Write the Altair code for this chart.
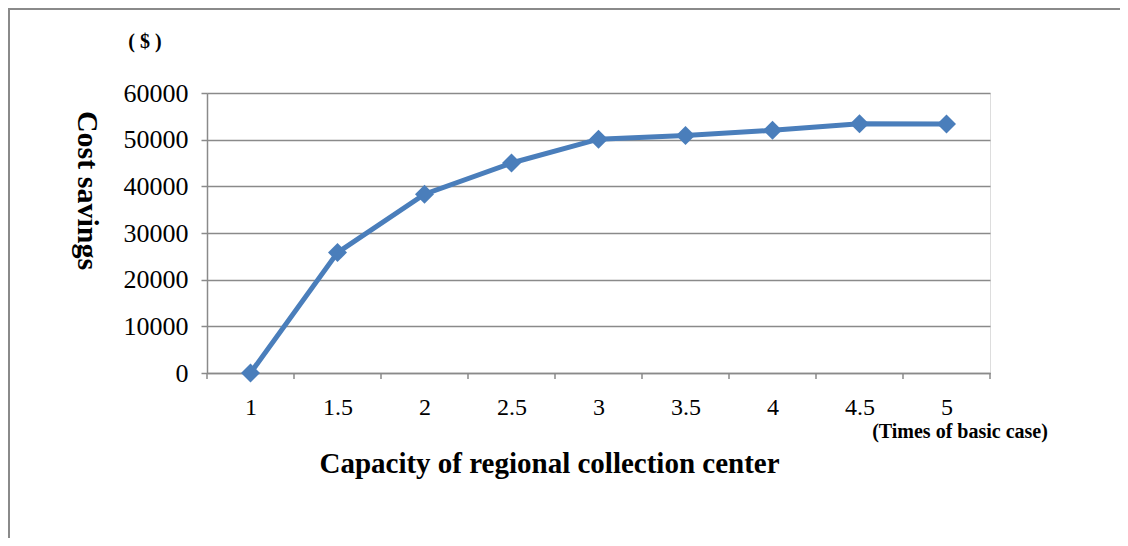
import altair as alt
import pandas as pd

capacity = [1, 1.5, 2, 2.5, 3, 3.5, 4, 4.5, 5]
savings = [0, 25800, 38300, 45000, 50100, 50900, 52000, 53400, 53350]
tick_bounds = [0.75, 1.25, 1.75, 2.25, 2.75, 3.25, 3.75, 4.25, 4.75, 5.25]
y_ticks = [0, 10000, 20000, 30000, 40000, 50000, 60000]

df = pd.DataFrame({"capacity": capacity, "savings": savings})
tb = pd.DataFrame({"b": tick_bounds})

W, H = 783, 280
GRAY = "#8a8a8a"
BLUE = "#4a7ebb"
FONT = "Liberation Serif"

xscale = alt.Scale(domain=[0.75, 5.25], nice=False, zero=False)
yscale = alt.Scale(domain=[0, 60000], nice=False)

x_enc = alt.X("capacity:Q", scale=xscale,
              axis=alt.Axis(values=capacity, labelExpr="datum.value", ticks=False, tickSize=0,
                            grid=False, domainColor=GRAY, domainWidth=1.5,
                            labelFont=FONT, labelFontSize=24, labelColor="black",
                            labelPadding=34, labelBaseline="middle",
                            title="Capacity of regional collection center",
                            titleFont=FONT, titleFontSize=29, titleFontWeight="bold",
                            titleColor="black", titleX=342, titleY=90,
                            titleBaseline="middle", titleAlign="center"))
y_enc = alt.Y("savings:Q", scale=yscale,
              axis=alt.Axis(values=y_ticks, format="d", grid=True, gridColor=GRAY,
                            gridWidth=1.5, domainColor=GRAY, domainWidth=1.5,
                            tickColor=GRAY, tickWidth=1.5, tickSize=6,
                            labelFont=FONT, labelFontSize=26, labelColor="black",
                            labelPadding=13,
                            title="Cost savings", titleFont=FONT, titleFontSize=30,
                            titleFontWeight="bold", titleColor="black",
                            titleAngle=90, titleX=-121, titleY=97,
                            titleBaseline="middle", titleAlign="center"))

line = alt.Chart(df).mark_line(color=BLUE, strokeWidth=5).encode(x=x_enc, y=y_enc)
pts = alt.Chart(df).mark_point(shape="diamond", filled=True, size=360, color=BLUE,
                               opacity=1).encode(x="capacity:Q", y="savings:Q")

xticks = alt.Chart(tb).mark_rule(color=GRAY, strokeWidth=1.5).encode(
    x=alt.X("b:Q", scale=xscale), y=alt.value(H), y2=alt.value(H + 6))

unit_txt = alt.Chart(pd.DataFrame({"t": ["( $ )"]})).mark_text(
    font=FONT, fontSize=20, fontWeight="bold", color="black", baseline="middle", align="center"
).encode(text="t:N", x=alt.value(-62), y=alt.value(-51))
times_txt = alt.Chart(pd.DataFrame({"t": ["(Times of basic case)"]})).mark_text(
    font=FONT, fontSize=20, fontWeight="bold", color="black", baseline="middle", align="center"
).encode(text="t:N", x=alt.value(753), y=alt.value(339))

frame_top = alt.Chart(pd.DataFrame({"a": [0]})).mark_rule(color=GRAY, strokeWidth=2).encode(
    x=alt.value(-199), x2=alt.value(W + 130), y=alt.value(-84))
frame_left = alt.Chart(pd.DataFrame({"a": [0]})).mark_rule(color=GRAY, strokeWidth=2).encode(
    x=alt.value(-198), y=alt.value(-85), y2=alt.value(H + 165))

chart = alt.layer(xticks, line, pts, unit_txt, times_txt, frame_top, frame_left).properties(
    width=W, height=H,
    autosize=alt.AutoSizeParams(type="none"),
    padding={"left": 199, "top": 85, "right": 130, "bottom": 165},
).configure_view(stroke=None).configure(background="white")

chart.save("out.html", embed_options={"renderer": "svg", "actions": False})
